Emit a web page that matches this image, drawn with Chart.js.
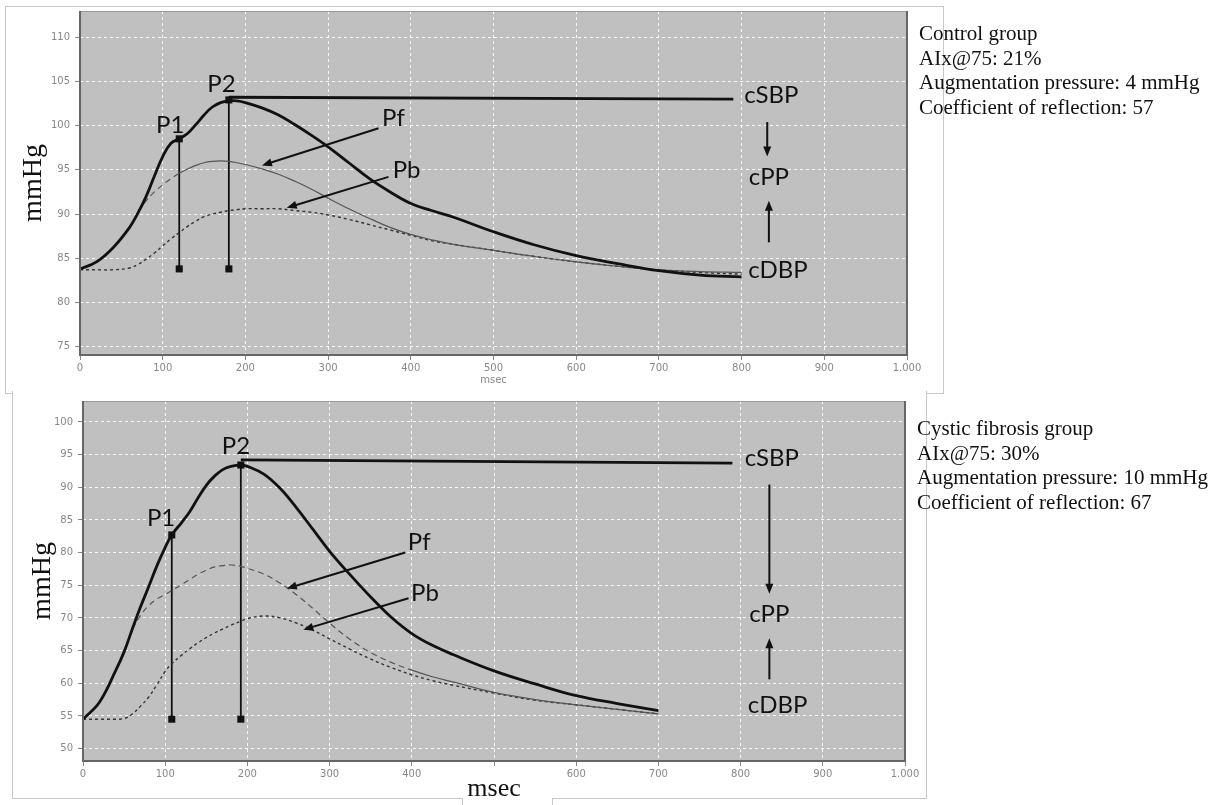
<!DOCTYPE html>
<html>
<head>
<meta charset="utf-8">
<script src="https://cdn.jsdelivr.net/npm/chart.js@4.4.1/dist/chart.umd.min.js"></script>
<style>
  body { margin: 0; background: #fff; width: 1223px; height: 805px; position: relative; overflow: hidden; }
  .frame { position: absolute; border: 1px solid #c8c8c8; box-sizing: border-box; }
  canvas { position: absolute; left: 0; }
  .info { position: absolute; font-family: 'Liberation Serif', serif; font-size: 21px; line-height: 24.5px; color: #111; white-space: nowrap; }
</style>
</head>
<body>
<div class="frame" style="left:5px;top:6px;width:939px;height:388px;"></div>
<div class="frame" style="left:12px;top:391px;width:915px;height:408px;border-top:none;background:#fff;"></div>
<div class="frame" style="left:462px;top:798px;width:91px;height:12px;border-top:none;border-bottom:none;background:#fff;"></div>
<canvas id="control" width="930" height="392" style="top:0"></canvas>
<canvas id="cf" width="930" height="415" style="top:390px"></canvas>
<div class="info" style="left:919px;top:21px">Control group<br>AIx@75: 21%<br>Augmentation pressure: 4 mmHg<br>Coefficient of reflection: 57</div>
<div class="info" style="left:917px;top:416px">Cystic fibrosis group<br>AIx@75: 30%<br>Augmentation pressure: 10 mmHg<br>Coefficient of reflection: 67</div>
<script>
// axis ticks
const xTicks = [0, 100, 200, 300, 400, 500, 600, 700, 800, 900, 1000];
const ctlXLabels = ['0', '100', '200', '300', '400', '500', '600', '700', '800', '900', '1.000'];
const cfXLabels = ['0', '100', '200', '300', '400', '', '600', '700', '800', '900', '1.000'];
const ctlYTicks = [75, 80, 85, 90, 95, 100, 105, 110];
const cfYTicks = [50, 55, 60, 65, 70, 75, 80, 85, 90, 95, 100];

// control group (msec / mmHg)
const ctlTime = [0, 20, 40, 60, 70, 80, 90, 100, 110, 120, 130, 140, 150, 160, 170, 180, 190, 200, 220, 240, 260, 280, 300, 325, 350, 375, 400, 425, 450, 500, 550, 600, 650, 700, 750, 800];
const ctlWave = [83.8, 84.6, 86.2, 88.5, 90.1, 92.0, 94.3, 96.5, 98.0, 98.5, 99.1, 100.1, 101.2, 102.1, 102.6, 102.8, 102.8, 102.6, 102.0, 101.2, 100.1, 98.9, 97.6, 95.8, 94.0, 92.5, 91.2, 90.4, 89.7, 88.0, 86.5, 85.3, 84.4, 83.6, 83.1, 82.9];
const ctlPf = [null, null, null, null, 90.3, 91.5, 92.5, 93.3, 94.0, 94.6, 95.1, 95.5, 95.8, 95.95, 96.0, 95.95, 95.8, 95.6, 95.1, 94.5, 93.7, 92.8, 91.8, 90.6, 89.5, 88.5, 87.7, 87.1, 86.6, 85.9, 85.2, 84.6, 84.1, 83.7, 83.5, 83.4];
const ctlPb = [83.7, 83.7, 83.7, 83.9, 84.3, 84.9, 85.6, 86.4, 87.2, 87.9, 88.6, 89.2, 89.7, 90.0, 90.2, 90.4, 90.5, 90.6, 90.6, 90.6, 90.4, 90.2, 89.9, 89.4, 88.8, 88.2, 87.6, 87.0, 86.6, 85.9, 85.2, 84.6, 84.1, 83.7, 83.4, 83.2];
const ctlP1 = [{x: 120, y: 98.5}, {x: 120, y: 83.8}];
const ctlP2 = [{x: 180, y: 102.9}, {x: 180, y: 83.8}];
const ctlSBP = [{x: 180, y: 103.2}, {x: 790, y: 103.0}];

// cystic fibrosis group
const cfTime = [0, 20, 40, 50, 60, 70, 80, 90, 100, 108, 120, 130, 140, 150, 160, 170, 180, 192, 200, 220, 240, 260, 280, 300, 325, 350, 375, 400, 425, 450, 500, 550, 600, 650, 700];
const cfWave = [54.5, 57.1, 62.0, 64.8, 68.3, 71.7, 74.8, 78.0, 80.8, 82.7, 84.6, 86.3, 88.4, 90.3, 91.7, 92.7, 93.2, 93.4, 93.2, 92.0, 89.8, 86.8, 83.5, 80.2, 76.6, 73.2, 70.1, 67.6, 65.8, 64.4, 61.9, 59.9, 58.1, 56.9, 55.8];
const cfPf = [null, null, null, null, 68.3, 70.4, 71.9, 72.9, 73.6, 74.2, 75.1, 75.9, 76.7, 77.3, 77.8, 78.0, 78.1, 77.9, 77.6, 76.7, 75.3, 73.5, 71.4, 69.2, 66.7, 64.7, 63.2, 62.0, 61.0, 60.2, 58.6, 57.5, 56.7, 56.0, 55.3];
const cfPb = [54.5, 54.5, 54.5, 54.6, 55.3, 56.5, 57.9, 59.8, 61.8, 63.0, 64.3, 65.3, 66.2, 67.0, 67.7, 68.3, 68.9, 69.5, 69.9, 70.3, 70.0, 69.2, 68.1, 66.8, 65.2, 63.7, 62.4, 61.3, 60.4, 59.7, 58.5, 57.4, 56.7, 56.0, 55.3];
const cfP1 = [{x: 108, y: 82.7}, {x: 108, y: 54.5}];
const cfP2 = [{x: 192, y: 93.4}, {x: 192, y: 54.5}];
const cfSBP = [{x: 192, y: 94.2}, {x: 790, y: 93.7}];

const pts = (t, v) => t.map((x, i) => ({x: x, y: v[i]}));

// grey plot area + frame
const plotBox = {
  id: 'plotBox',
  beforeDraw(chart) {
    const {ctx, chartArea: a} = chart;
    ctx.save();
    ctx.fillStyle = '#c0c0c0';
    ctx.fillRect(a.left, a.top, a.width, a.height);
    ctx.restore();
  },
  afterDraw(chart) {
    const {ctx, chartArea: a} = chart;
    ctx.save();
    ctx.strokeStyle = '#9a9a9a';
    ctx.lineWidth = 1;
    ctx.beginPath();
    ctx.moveTo(a.left, a.top + 0.5);
    ctx.lineTo(a.right, a.top + 0.5);
    ctx.stroke();
    ctx.strokeStyle = '#666';
    ctx.lineWidth = 2;
    ctx.beginPath();
    ctx.moveTo(a.left, a.top);
    ctx.lineTo(a.left, a.bottom);
    ctx.lineTo(a.right, a.bottom);
    ctx.lineTo(a.right, a.top);
    ctx.stroke();
    ctx.restore();
  }
};

// text labels and arrows placed in data units
const marks = {
  id: 'marks',
  afterDatasetsDraw(chart, args, opts) {
    const {ctx, scales: {x, y}} = chart;
    ctx.save();
    ctx.strokeStyle = '#111';
    ctx.fillStyle = '#111';
    ctx.lineWidth = 2;
    (opts.arrows || []).forEach(a => {
      const x1 = x.getPixelForValue(a[0]), y1 = y.getPixelForValue(a[1]);
      const x2 = x.getPixelForValue(a[2]), y2 = y.getPixelForValue(a[3]);
      const ang = Math.atan2(y2 - y1, x2 - x1);
      const hl = 10, hw = 4;
      ctx.beginPath();
      ctx.moveTo(x1, y1);
      ctx.lineTo(x2 - Math.cos(ang) * hl * 0.8, y2 - Math.sin(ang) * hl * 0.8);
      ctx.stroke();
      ctx.beginPath();
      ctx.moveTo(x2, y2);
      ctx.lineTo(x2 - Math.cos(ang) * hl - Math.sin(ang) * hw, y2 - Math.sin(ang) * hl + Math.cos(ang) * hw);
      ctx.lineTo(x2 - Math.cos(ang) * hl + Math.sin(ang) * hw, y2 - Math.sin(ang) * hl - Math.cos(ang) * hw);
      ctx.closePath();
      ctx.fill();
    });
    ctx.font = '24px Lato';
    ctx.textAlign = 'center';
    ctx.textBaseline = 'middle';
    (opts.labels || []).forEach(l => {
      ctx.fillText(l[0], x.getPixelForValue(l[1]), y.getPixelForValue(l[2]));
    });
    ctx.restore();
  }
};

function makeChart(id, s) {
  const tickFont = {family: 'DejaVu Sans', size: 10};
  return new Chart(document.getElementById(id), {
    type: 'line',
    data: {
      datasets: [
        {data: pts(s.time, s.wave), borderColor: '#111', borderWidth: 2.8, pointRadius: 0, tension: 0.4},
        {data: pts(s.time, s.pf), borderColor: '#555', borderWidth: 1.2, pointRadius: 0, tension: 0.4,
          segment: {borderDash: c => c.p1.parsed.x <= s.pfDashTo ? [6, 4] : undefined}},
        {data: pts(s.time, s.pb), borderColor: '#333', borderWidth: 1.4, borderDash: [3, 3], pointRadius: 0, tension: 0.4},
        {data: s.p1, borderColor: '#111', borderWidth: 1.8, pointStyle: 'rect', pointRadius: 5, pointBackgroundColor: '#111', pointBorderWidth: 0},
        {data: s.p2, borderColor: '#111', borderWidth: 1.8, pointStyle: 'rect', pointRadius: 5, pointBackgroundColor: '#111', pointBorderWidth: 0},
        {data: s.sbp, borderColor: '#111', borderWidth: 2.8, pointRadius: 0}
      ]
    },
    options: {
      responsive: false,
      animation: false,
      layout: {padding: {left: 0, top: s.padTop, right: s.padRight, bottom: 0}},
      plugins: {
        legend: {display: false},
        tooltip: {enabled: false},
        marks: {labels: s.labels, arrows: s.arrows}
      },
      scales: {
        x: {
          type: 'linear', min: 0, max: 1000,
          afterBuildTicks: sc => { sc.ticks = xTicks.map(v => ({value: v})); },
          afterFit: sc => { sc.height = s.xHeight; },
          ticks: {autoSkip: false, maxRotation: 0, padding: 2, color: '#888', font: tickFont,
            callback: v => s.xLabels[xTicks.indexOf(v)]},
          grid: {color: 'rgba(255,255,255,0.9)', lineWidth: 1, tickLength: 5, tickColor: '#888', tickBorderDash: []},
          border: {display: false, dash: [3, 3]},
          title: {display: true, text: 'msec', color: s.xTitle.color, font: s.xTitle.font, padding: s.xTitle.padding}
        },
        y: {
          min: s.yMin, max: s.yMax,
          afterBuildTicks: sc => { sc.ticks = s.yTicks.map(v => ({value: v})); },
          afterFit: sc => { sc.width = s.yWidth; },
          ticks: {padding: 5, color: '#888', font: tickFont},
          grid: {color: 'rgba(255,255,255,0.9)', lineWidth: 1, tickLength: 5, tickColor: '#888', tickBorderDash: []},
          border: {display: false, dash: [3, 3]},
          title: {display: true, text: 'mmHg', color: '#111', font: {family: 'Liberation Serif', size: 28}, padding: {top: s.yTitlePad, bottom: 0}}
        }
      }
    },
    plugins: [plotBox, marks]
  });
}

makeChart('control', {
  time: ctlTime, wave: ctlWave, pf: ctlPf, pb: ctlPb, p1: ctlP1, p2: ctlP2, sbp: ctlSBP,
  pfDashTo: 120,
  yMin: 74.07, yMax: 112.95, yTicks: ctlYTicks, xLabels: ctlXLabels,
  padTop: 8, padRight: 23, yWidth: 80, xHeight: 37, yTitlePad: 17,
  xTitle: {color: '#888', font: {family: 'DejaVu Sans', size: 10}, padding: {top: 0, bottom: 6}},
  labels: [['P1', 109, 100.0], ['P2', 171, 104.7], ['Pf', 379, 100.8], ['Pb', 395, 95.0],
    ['cSBP', 836, 103.4], ['cPP', 833, 94.2], ['cDBP', 844, 83.7]],
  arrows: [[361, 99.7, 220, 95.5], [373, 94.2, 250, 90.7], [831, 100.4, 831, 96.5], [833, 86.8, 833, 91.5]]
});

makeChart('cf', {
  time: cfTime, wave: cfWave, pf: cfPf, pb: cfPb, p1: cfP1, p2: cfP2, sbp: cfSBP,
  pfDashTo: 410,
  yMin: 48.1, yMax: 103.2, yTicks: cfYTicks, xLabels: cfXLabels,
  padTop: 7, padRight: 25, yWidth: 83, xHeight: 44, yTitlePad: 26,
  xTitle: {color: '#111', font: {family: 'Liberation Serif', size: 26}, padding: {top: 0, bottom: 0}},
  labels: [['P1', 95, 85.3], ['P2', 186, 96.2], ['Pf', 409, 81.6], ['Pb', 416, 73.8],
    ['cSBP', 838, 94.4], ['cPP', 835, 70.6], ['cDBP', 845, 56.7]],
  arrows: [[392, 80.0, 248, 74.5], [396, 73.0, 268, 68.2], [835, 90.4, 835, 73.7], [835, 60.6, 835, 66.9]]
});
</script>
</body>
</html>
